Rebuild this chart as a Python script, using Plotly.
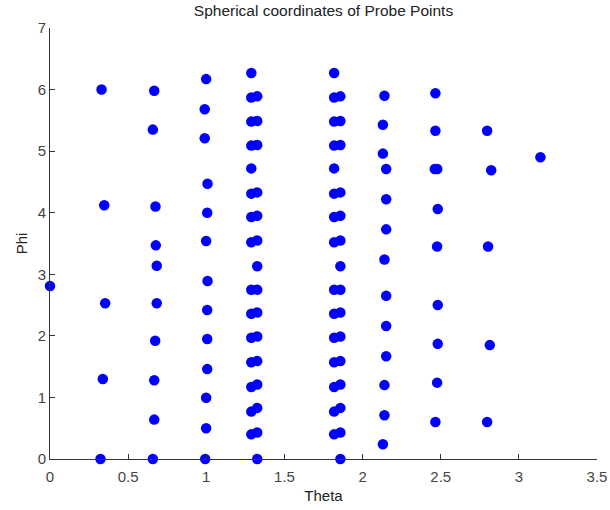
import plotly.graph_objects as go

# Theta / Phi values of the probe points, column by column
theta_c0 = [0.0]
phi_c0 = [2.81]

theta_c1 = [0.33, 0.347, 0.353, 0.338, 0.323]
phi_c1 = [6.00, 4.12, 2.53, 1.30, 0.0]

theta_c2 = [0.667, 0.658, 0.675, 0.677, 0.683, 0.683, 0.673, 0.667, 0.667, 0.658]
phi_c2 = [5.98, 5.35, 4.10, 3.47, 3.14, 2.53, 1.92, 1.28, 0.64, 0.0]

theta_c3 = [0.999, 0.99, 0.99, 1.008, 1.006, 0.999, 1.008, 1.006, 1.006, 1.006, 0.999, 0.999, 0.993]
phi_c3 = [6.17, 5.68, 5.21, 4.47, 4.00, 3.54, 2.89, 2.42, 1.95, 1.46, 0.995, 0.50, 0.0]

theta_c4a = [1.288] * 15
phi_c4a = [6.27, 5.87, 5.48, 5.09, 4.72, 4.31, 3.93, 3.52, 2.75, 2.36, 1.97, 1.57, 1.17, 0.77, 0.40]
theta_c4b = [1.326] * 15
phi_c4b = [5.89, 5.49, 5.10, 4.33, 3.95, 3.55, 3.13, 2.75, 2.38, 1.99, 1.59, 1.21, 0.83, 0.43, 0.0]

theta_c5a = [1.818] * 15
phi_c5a = [6.27, 5.87, 5.48, 5.09, 4.72, 4.31, 3.93, 3.52, 2.75, 2.36, 1.97, 1.57, 1.17, 0.77, 0.40]
theta_c5b = [1.858] * 15
phi_c5b = [5.89, 5.49, 5.10, 4.33, 3.95, 3.55, 3.13, 2.75, 2.38, 1.99, 1.59, 1.21, 0.83, 0.43, 0.0]

theta_c6 = [2.14, 2.13, 2.13, 2.151, 2.151, 2.151, 2.14, 2.151, 2.151, 2.151, 2.14, 2.14, 2.13]
phi_c6 = [5.90, 5.43, 4.96, 4.71, 4.22, 3.73, 3.24, 2.65, 2.16, 1.67, 1.20, 0.71, 0.24]

theta_c7 = [2.466, 2.466, 2.462, 2.478, 2.481, 2.477, 2.481, 2.481, 2.477, 2.466]
phi_c7 = [5.94, 5.33, 4.71, 4.71, 4.06, 3.45, 2.50, 1.87, 1.24, 0.60]

theta_c8 = [2.797, 2.823, 2.803, 2.814, 2.797]
phi_c8 = [5.33, 4.69, 3.45, 1.85, 0.60]

theta_c9 = [3.138]
phi_c9 = [4.90]

theta = (theta_c0 + theta_c1 + theta_c2 + theta_c3 + theta_c4a + theta_c4b
         + theta_c5a + theta_c5b + theta_c6 + theta_c7 + theta_c8 + theta_c9)
phi = (phi_c0 + phi_c1 + phi_c2 + phi_c3 + phi_c4a + phi_c4b
       + phi_c5a + phi_c5b + phi_c6 + phi_c7 + phi_c8 + phi_c9)

x_ticks = [0, 0.5, 1, 1.5, 2, 2.5, 3, 3.5]
x_tick_labels = ["0", "0.5", "1", "1.5", "2", "2.5", "3", "3.5"]
y_ticks = [0, 1, 2, 3, 4, 5, 6, 7]
y_tick_labels = ["0", "1", "2", "3", "4", "5", "6", "7"]

fig = go.Figure()
fig.add_trace(go.Scatter(
    x=theta, y=phi, mode="markers",
    marker=dict(color="#0000ff", size=10.5, line=dict(width=0)),
    cliponaxis=False, showlegend=False,
))

font = "Liberation Sans, Arial, sans-serif"
fig.update_layout(
    width=610, height=510,
    margin=dict(l=50, r=13, t=28, b=51, autoexpand=False),
    paper_bgcolor="white", plot_bgcolor="white",
    title=dict(text="Spherical coordinates of Probe Points", x=0.5, xanchor="center",
               xref="paper", y=0.979, yref="container", yanchor="middle",
               font=dict(family=font, size=15.5, color="#222")),
    font=dict(family=font, size=15, color="#333"),
)
fig.update_xaxes(
    range=[0, 3.5], tickvals=x_ticks, ticktext=x_tick_labels, automargin=False,
    showgrid=False, zeroline=False, showline=True, linecolor="#333", linewidth=1,
    ticks="inside", ticklen=5, tickcolor="#333", ticklabelstandoff=4,
    title=dict(text="Theta", standoff=6, font=dict(family=font, size=15, color="#222")),
    tickfont=dict(family=font, size=15, color="#444"),
)
fig.update_yaxes(
    range=[0, 7], tickvals=y_ticks, ticktext=y_tick_labels, automargin=False,
    showgrid=False, zeroline=False, showline=True, linecolor="#333", linewidth=1,
    ticks="inside", ticklen=5, tickcolor="#333",
    title=dict(text="Phi", standoff=6, font=dict(family=font, size=15, color="#222")),
    tickfont=dict(family=font, size=15, color="#444"),
)

fig.write_html("out.html")
